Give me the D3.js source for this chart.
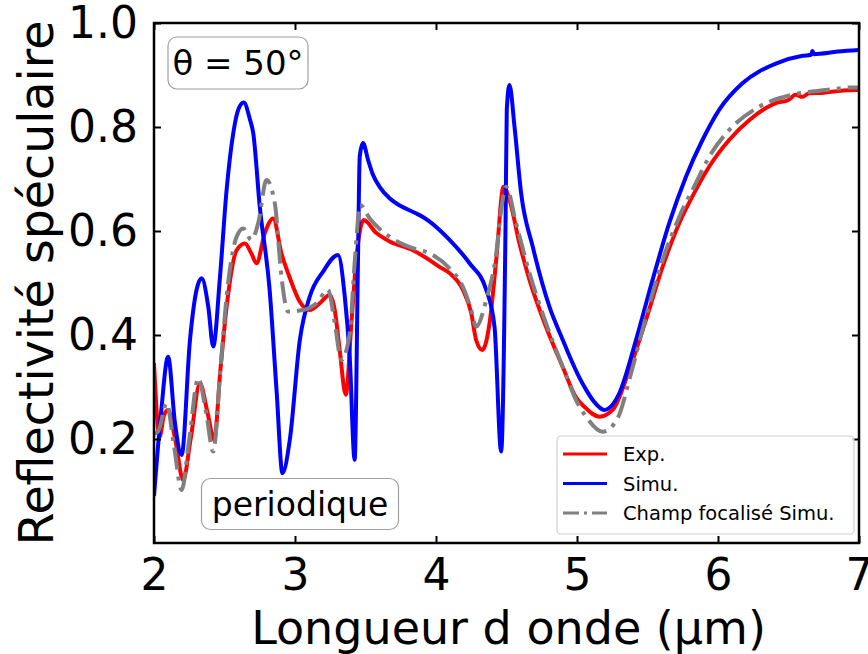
<!DOCTYPE html>
<html>
<head>
<meta charset="utf-8">
<script src="https://cdn.jsdelivr.net/npm/d3@7"></script>
<style>
  html, body { margin: 0; padding: 0; background: #fff; }
  svg { display: block; font-family: "DejaVu Sans", sans-serif; }
</style>
</head>
<body>
<svg id="chart" width="868" height="654"></svg>
<script>
// ---- Data ----
const xTicks = [2, 3, 4, 5, 6, 7];
const yTicks = [0.2, 0.4, 0.6, 0.8, 1.0];

const expWl = [2.00, 2.04, 2.07, 2.10, 2.15, 2.207, 2.26, 2.326, 2.38, 2.427, 2.47, 2.515, 2.586, 2.645, 2.69, 2.727, 2.786, 2.845, 2.904, 2.963, 3.034, 3.105, 3.176, 3.246, 3.282, 3.317, 3.36, 3.40, 3.436, 3.487, 3.577, 3.671, 3.836, 3.955, 4.025, 4.096, 4.19, 4.25, 4.285, 4.328, 4.38, 4.427, 4.479, 4.521, 4.592, 4.663, 4.78, 4.898, 4.993, 5.052, 5.159, 5.253, 5.371, 5.489, 5.607, 5.725, 5.843, 5.938, 6.079, 6.221, 6.41, 6.50, 6.55, 6.60, 6.646, 6.75, 6.85, 6.99, 7.00];
const expR  = [0.346, 0.204, 0.245, 0.256, 0.20, 0.121, 0.20, 0.307, 0.25, 0.198, 0.33, 0.454, 0.563, 0.576, 0.557, 0.538, 0.596, 0.624, 0.557, 0.51, 0.464, 0.448, 0.461, 0.477, 0.448, 0.371, 0.285, 0.423, 0.55, 0.621, 0.596, 0.58, 0.563, 0.544, 0.531, 0.519, 0.487, 0.442, 0.39, 0.371, 0.423, 0.544, 0.685, 0.66, 0.576, 0.506, 0.416, 0.339, 0.28, 0.262, 0.243, 0.256, 0.333, 0.429, 0.531, 0.615, 0.679, 0.724, 0.775, 0.813, 0.846, 0.852, 0.862, 0.858, 0.865, 0.866, 0.869, 0.871, 0.871];

const simWl = [2.00, 2.05, 2.10, 2.149, 2.196, 2.255, 2.302, 2.338, 2.385, 2.42, 2.468, 2.515, 2.562, 2.60, 2.637, 2.68, 2.704, 2.75, 2.82, 2.87, 2.911, 2.963, 3.034, 3.105, 3.199, 3.305, 3.353, 3.388, 3.423, 3.447, 3.459, 3.482, 3.52, 3.553, 3.60, 3.671, 3.75, 3.85, 3.907, 3.96, 4.025, 4.096, 4.238, 4.356, 4.415, 4.462, 4.493, 4.502, 4.521, 4.557, 4.604, 4.686, 4.805, 4.90, 4.946, 5.017, 5.064, 5.12, 5.193, 5.30, 5.418, 5.536, 5.654, 5.772, 5.89, 6.008, 6.173, 6.41, 6.60, 6.66, 6.67, 6.68, 6.85, 7.00];
const simR  = [0.09, 0.25, 0.358, 0.23, 0.169, 0.39, 0.487, 0.509, 0.454, 0.378, 0.512, 0.679, 0.788, 0.835, 0.847, 0.815, 0.788, 0.647, 0.487, 0.29, 0.134, 0.198, 0.39, 0.474, 0.522, 0.554, 0.474, 0.358, 0.16, 0.55, 0.743, 0.769, 0.735, 0.708, 0.685, 0.663, 0.648, 0.635, 0.627, 0.617, 0.602, 0.583, 0.538, 0.487, 0.416, 0.176, 0.608, 0.833, 0.881, 0.80, 0.672, 0.57, 0.454, 0.39, 0.36, 0.318, 0.295, 0.272, 0.256, 0.288, 0.39, 0.506, 0.615, 0.704, 0.775, 0.833, 0.884, 0.922, 0.937, 0.939, 0.946, 0.940, 0.945, 0.948];

const focWl = [2.00, 2.03, 2.09, 2.14, 2.196, 2.25, 2.314, 2.37, 2.42, 2.47, 2.515, 2.586, 2.633, 2.69, 2.739, 2.798, 2.857, 2.904, 2.951, 3.057, 3.152, 3.234, 3.282, 3.329, 3.388, 3.423, 3.463, 3.53, 3.671, 3.836, 3.955, 4.096, 4.19, 4.25, 4.285, 4.356, 4.427, 4.462, 4.497, 4.568, 4.663, 4.78, 4.898, 5.004, 5.064, 5.182, 5.288, 5.383, 5.489, 5.607, 5.725, 5.843, 5.938, 6.079, 6.292, 6.528, 6.764, 6.952, 7.00];
const focR  = [0.21, 0.215, 0.269, 0.19, 0.102, 0.20, 0.317, 0.25, 0.176, 0.33, 0.474, 0.589, 0.605, 0.583, 0.615, 0.698, 0.653, 0.512, 0.445, 0.448, 0.461, 0.487, 0.423, 0.352, 0.403, 0.538, 0.65, 0.624, 0.589, 0.567, 0.557, 0.528, 0.493, 0.448, 0.416, 0.467, 0.557, 0.64, 0.685, 0.615, 0.519, 0.423, 0.339, 0.269, 0.243, 0.214, 0.24, 0.326, 0.435, 0.544, 0.627, 0.692, 0.743, 0.794, 0.839, 0.862, 0.871, 0.876, 0.876];

const seriesNames = ["Exp.", "Simu.", "Champ focalisé Simu."];
const seriesColors = ["#ff0000", "#0000ff", "#808080"];

// ---- Layout ----
const svg = d3.select("#chart");
const L = 154, R = 859, T = 23, B = 543;
const x = d3.scaleLinear().domain([2, 7]).range([L, R]);
const y = d3.scaleLinear().domain([0, 1]).range([B, T]);

const mk = (wl, r) => wl.map((w, i) => [w, r[i]]);
const series = [mk(expWl, expR), mk(simWl, simR), mk(focWl, focR)];
const line = d3.line().x(d => x(d[0])).y(d => y(d[1])).curve(d3.curveMonotoneX);

const plot = svg.append("g");
plot.append("defs").append("clipPath").attr("id", "clip")
  .append("rect").attr("x", L).attr("y", T).attr("width", R - L).attr("height", B - T);

const lines = plot.append("g").attr("clip-path", "url(#clip)");
series.forEach((s, i) => {
  lines.append("path").datum(s)
    .attr("d", line)
    .attr("fill", "none")
    .attr("stroke", seriesColors[i])
    .attr("stroke-width", 4)
    .attr("stroke-linejoin", "round")
    .attr("stroke-dasharray", i === 2 ? "22,7,4,7" : null);
});

// ---- Axes (ticks inside, on all four sides) ----
const tickLen = 7;
const axB = d3.axisBottom(x).tickValues(xTicks).tickSizeInner(-tickLen).tickSizeOuter(0).tickPadding(16).tickFormat(d3.format("d"));
const axT = d3.axisTop(x).tickValues(xTicks).tickSizeInner(-tickLen).tickSizeOuter(0).tickFormat("");
const axLft = d3.axisLeft(y).tickValues(yTicks).tickSizeInner(-tickLen).tickSizeOuter(0).tickPadding(16).tickFormat(d3.format(".1f"));
const axRgt = d3.axisRight(y).tickValues(yTicks).tickSizeInner(-tickLen).tickSizeOuter(0).tickFormat("");

function styleAxis(g) {
  g.select(".domain").remove();
  g.selectAll(".tick line").attr("stroke", "#000").attr("stroke-width", 2);
  g.selectAll(".tick text").attr("fill", "#000").attr("font-family", "DejaVu Sans").attr("font-size", 44);
}
svg.append("g").attr("transform", `translate(0,${B})`).call(axB).call(styleAxis);
svg.append("g").attr("transform", `translate(0,${T})`).call(axT).call(styleAxis);
svg.append("g").attr("transform", `translate(${L},0)`).call(axLft).call(styleAxis);
svg.append("g").attr("transform", `translate(${R},0)`).call(axRgt).call(styleAxis);

svg.append("rect").attr("x", L).attr("y", T).attr("width", R - L).attr("height", B - T)
  .attr("fill", "none").attr("stroke", "#000").attr("stroke-width", 2.5);

// ---- Axis titles ----
svg.append("text").attr("x", (L + R) / 2 + 2).attr("y", 644).attr("text-anchor", "middle")
  .attr("font-size", 46).attr("fill", "#000").text("Longueur d onde (µm)");
svg.append("text").attr("transform", `translate(53,${(T + B) / 2}) rotate(-90)`).attr("text-anchor", "middle")
  .attr("font-size", 47.5).attr("fill", "#000").text("Reflectivité spéculaire");

// ---- Annotation boxes ----
function labelBox(cx, cy, w, h, txt, fs) {
  const g = svg.append("g");
  g.append("rect").attr("x", cx - w / 2).attr("y", cy - h / 2).attr("width", w).attr("height", h)
    .attr("rx", 9).attr("fill", "#fff").attr("stroke", "#a0a0a0").attr("stroke-width", 1.2);
  g.append("text").attr("x", cx).attr("y", cy).attr("dy", "0.36em").attr("text-anchor", "middle")
    .attr("font-size", fs).attr("fill", "#000").text(txt);
}
labelBox(238, 63, 140, 52, "θ = 50°", 34);
labelBox(300, 504, 197, 51, "periodique", 33);

// ---- Legend ----
const lg = svg.append("g");
lg.append("rect").attr("x", 557).attr("y", 436).attr("width", 297).attr("height", 98).attr("rx", 4)
  .attr("fill", "#fff").attr("fill-opacity", 0.8).attr("stroke", "#d0d0d0").attr("stroke-width", 1.2);
seriesNames.forEach((name, i) => {
  const yy = 454 + i * 29.5;
  lg.append("line").attr("x1", 563).attr("x2", 607).attr("y1", yy).attr("y2", yy)
    .attr("stroke", seriesColors[i]).attr("stroke-width", 3)
    .attr("stroke-dasharray", i === 2 ? "16,5,3,5" : null);
  lg.append("text").attr("x", 623).attr("y", yy).attr("dy", "0.36em")
    .attr("font-size", 19.5).attr("fill", "#000").text(name);
});
</script>
</body>
</html>
